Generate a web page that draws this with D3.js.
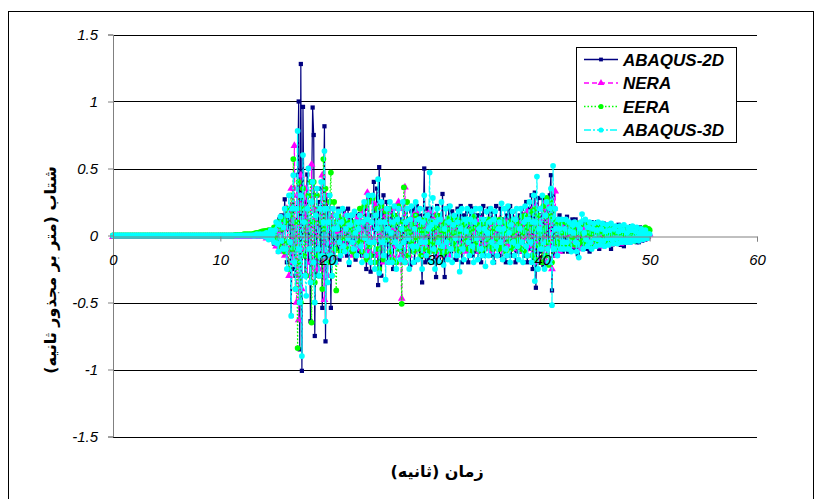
<!DOCTYPE html>
<html>
<head>
<meta charset="utf-8">
<script src="https://cdn.jsdelivr.net/npm/d3@7"></script>
<style>
body { margin: 0; background: #fff; }
</style>
</head>
<body>
<div id="chart-area"></div>
<script>
// quiet part: samples every 0.2 s from 0 to 12.8 s
// strong motion part: samples every 0.1 s from 13 to 50 s
var quietStep = 0.2;
var eventStart = 13, eventStep = 0.1;
var xTicks = [0, 10, 20, 30, 40, 50, 60];
var yTicks = [-1.5, -1, -0.5, 0, 0.5, 1, 1.5];
var seriesNames = ["ABAQUS-2D", "NERA", "EERA", "ABAQUS-3D"];

var abaqus2dQuiet = [0,0,0,0,0,0,0,0,0,0, 0,0,0,0,0,0,0,0,0,0, 0,0,0,0,0,0,0,0,0,0, 0,0,0,0,0,0,0,0,0,0,
  0,0,0,0,0,0,0,0,0,0, 0,0,0,0,0,0,0,0,0,0, 0,0,0,0,0];
var neraQuiet = [-0.01,-0.01,-0.01,-0.01,-0.01,-0.01,-0.01,-0.01,-0.01,-0.01, -0.01,-0.01,-0.01,-0.01,-0.01,-0.01,-0.01,-0.01,-0.01,-0.01,
  -0.01,-0.01,-0.01,-0.01,-0.01,-0.01,-0.01,-0.01,-0.01,-0.01, -0.01,-0.01,-0.01,-0.01,-0.01,-0.01,-0.01,-0.01,-0.01,-0.01,
  -0.01,-0.01,-0.01,-0.01,-0.01,-0.01,-0.01,-0.01,-0.01,-0.01, -0.01,-0.01,-0.01,-0.01,-0.01,-0.01,-0.01,-0.01,-0.01,-0.01,
  -0.01,-0.01,-0.01,-0.01,-0.01];
var eeraQuiet = [0,0,0,0,0,0,0,0,0,0, 0,0,0,0,0,0,0,0,0,0, 0,0,0,0,0,0,0,0,0,0, 0,0,0,0,0,0,0,0,0,0,
  0,0,0,0,0,0,0,0,0,0, 0,0,0,0,0,0,0,0.005,0.005,0.005, 0.005,0.01,0.01,0.01,0.01];
var abaqus3dQuiet = [0,0,0,0,0,0,0,0,0,0, 0,0,0,0,0,0,0,0,0,0, 0,0,0,0,0,0,0,0,0,0, 0,0,0,0,0,0,0,0,0,0,
  0,0,0,0,0,0,0,0,0,0, 0,0,0,0,0,0,0,0,0,0, 0,0,0,0,0];

var abaqus2d = [
  0,0,0.01,0,0.01,0,0.01,0,0,0.01,
  0.01,0,-0.01,0.02,0,-0.02,0.03,-0.01,0.04,-0.03,
  -0.06,0.05,0.1,-0.04,-0.08,0.12,0.02,0.15,-0.1,0.06,
  0.27,-0.1,-0.2,0.12,0.05,0.2,-0.6,0.1,0.35,-0.25,
  -0.3,0.2,0.45,1.0,-0.85,1.28,-1.01,0.96,0.1,-0.3,
  0.25,0.455,-0.2,0.1,-0.64,0.3,0.955,0.75,-0.75,0.2,
  -0.3,0.25,0.1,-0.2,0.35,-0.54,0.2,0.815,-0.79,0.3,
  0.2,-0.15,0.3,-0.54,0.1,0.2,-0.2,0.05,0.15,-0.1,
  0.2,-0.18,0.05,0.12,-0.12,0.18,-0.05,0.1,-0.15,0.2,
  -0.22,0.12,-0.02,0.15,-0.1,0.08,-0.18,0.05,0.15,-0.12,
  0.16,-0.05,-0.15,0.1,0.05,0.2,-0.25,0.1,0.28,-0.1,
  -0.27,0.15,0.05,0.4,-0.15,0.2,0.35,-0.37,0.51,-0.2,
  -0.3,0.1,0.3,-0.15,0.02,0.25,-0.2,0.12,-0.15,0.2,
  0.2,-0.25,0.08,0.15,-0.2,0.05,0.22,-0.1,-0.18,0.12,
  -0.2,0.25,0.05,-0.15,0.2,-0.05,0.12,-0.22,0.18,0.03,
  0.2,-0.2,0.05,0.22,-0.1,0.05,0.15,-0.12,-0.35,0.1,
  0.5,-0.2,0.1,0.2,-0.18,0.05,0.2,-0.1,0.15,-0.2,
  0.1,-0.31,0.22,-0.05,0.15,-0.2,0.05,0.31,-0.1,-0.31,
  0.2,-0.15,0.05,0.22,0.02,-0.12,0.18,-0.05,0.12,-0.18,
  -0.18,0.2,-0.05,0.1,0.22,-0.2,0.05,0.15,-0.1,0.02,
  0.18,-0.2,0.08,0.22,-0.02,-0.15,0.2,0.05,-0.12,0.15,
  -0.18,0.05,0.15,-0.2,0.1,0.22,-0.15,0.02,0.12,-0.08,
  0.2,-0.02,-0.15,0.18,0.05,-0.2,0.1,0.22,-0.1,0.05,
  -0.15,0.2,0.02,-0.18,0.12,0.05,-0.2,0.15,-0.05,0.18,
  0.22,-0.15,0.05,0.18,-0.1,-0.2,0.12,0.05,-0.12,0.15,
  -0.12,0.2,0.05,-0.15,0.1,0.25,-0.2,0.08,0.2,-0.1,
  0.3,-0.25,0.12,0.32,-0.39,0.1,0.28,-0.2,0.15,-0.12,
  0.28,-0.22,0.1,0.25,-0.15,0.2,-0.2,0.3,0.45,-0.41,
  0.3,-0.15,0.1,0.12,-0.1,0.05,0.15,-0.08,0.1,-0.12,
  0.12,-0.02,0.08,0.14,-0.12,0.05,0.1,-0.06,0.12,-0.1,
  -0.1,0.12,0.02,-0.14,0.08,0.03,-0.08,0.1,-0.05,0.09,
  0.1,-0.1,0.05,0.02,-0.12,0.08,0.1,-0.05,0.06,-0.08,
  -0.08,0.1,0.02,-0.1,0.08,0.05,-0.07,0.09,-0.04,0.06,
  0.08,-0.02,0.05,0.07,-0.1,0.03,0.06,-0.05,0.04,-0.06,
  -0.06,0.08,0.02,-0.07,0.06,0.03,-0.08,0.05,-0.03,0.04,
  0.06,-0.05,0.03,0.07,0,-0.04,0.05,0.02,-0.05,0.04,
  -0.05,0.06,0.01,-0.04,0.05,0.02,-0.03,0.04,-0.02,0.03,
  0.02
];

var nera = [
  -0.01,-0.01,-0.01,-0.01,-0.01,-0.01,-0.01,-0.01,-0.005,-0.005,
  0,0.01,-0.01,-0.02,0.01,0.02,-0.01,-0.03,0.02,0.01,
  0.05,-0.03,-0.08,0.04,0.02,-0.12,0.06,0.1,-0.05,0.08,
  -0.15,0.05,0.2,-0.1,-0.3,0.15,0.35,-0.2,0.1,0.67,
  -0.2,-0.5,0.3,-0.63,0.2,0.45,-0.4,0.1,0.35,-0.1,
  0.35,-0.3,0.1,0.05,-0.2,0.53,-0.35,0.2,0.1,-0.25,
  0.3,-0.1,-0.25,0.2,0.1,0.45,-0.2,-0.48,0.3,0.05,
  -0.3,0.1,0.25,-0.05,-0.2,0.15,0.05,-0.2,0.1,0.02,
  0.12,-0.05,-0.15,0.08,0.02,-0.1,0.15,0.05,-0.08,0.1,
  -0.12,0.1,0.02,-0.15,0.04,0.08,-0.08,0.12,-0.05,0.02,
  0.12,-0.1,0.05,0.18,-0.05,-0.15,0.1,0.32,-0.12,0.05,
  -0.2,0.1,0.25,-0.02,-0.12,0.22,0.05,-0.15,0.1,0.02,
  0.2,-0.05,-0.2,0.1,0.15,-0.02,0.05,0.18,-0.1,0.03,
  -0.15,0.05,0.2,-0.08,-0.2,0.1,0.25,0.02,-0.15,-0.47,
  0.2,0.1,0.36,-0.2,0.02,0.05,-0.15,0.1,-0.05,0.08,
  0.15,-0.12,0.02,0.18,-0.02,-0.08,0.12,0.04,-0.1,0.06,
  -0.15,0.05,0.12,-0.1,0.02,0.18,-0.12,0.06,0.1,-0.05,
  0.15,-0.12,0.02,0.04,-0.15,0.1,0.12,-0.06,0.03,-0.1,
  -0.1,0.12,0.03,-0.15,0.1,0.05,-0.02,0.1,-0.08,0.04,
  0.12,-0.1,0.02,0.08,-0.12,0.06,0.1,-0.04,0.02,-0.08,
  -0.12,0.03,0.1,-0.08,0.05,0.12,-0.1,0.02,0.06,-0.06,
  0.1,-0.12,0.04,0.12,-0.02,-0.08,0.1,0.03,-0.06,0.05,
  -0.1,0.12,0.02,-0.12,0.08,0.04,-0.1,0.06,0.1,-0.04,
  0.12,-0.08,0.03,0.1,-0.12,0.05,0.1,-0.02,-0.06,0.08,
  -0.08,0.1,0.02,-0.1,0.12,-0.06,0.04,0.08,-0.05,0.03,
  0.1,-0.12,0.05,0.15,-0.02,-0.1,0.18,0.04,-0.08,0.1,
  -0.15,0.2,0.05,-0.2,0.22,-0.05,-0.18,0.12,0.08,-0.1,
  0.2,-0.15,0.05,0.25,-0.2,0.1,0.22,-0.08,0.15,-0.25,
  0.1,0.2,0.33,-0.15,0.05,0.1,-0.12,0.02,0.06,-0.05,
  0.1,-0.08,0.03,0.02,-0.1,0.07,0.04,-0.06,0.05,-0.02,
  -0.08,0.09,0.01,-0.07,0.08,0.02,-0.1,0.05,-0.03,0.04,
  0.07,-0.08,0.01,0.06,-0.07,0.03,0.08,-0.04,0.02,-0.05,
  -0.07,0.06,0.02,-0.08,0.05,0.01,-0.06,0.04,-0.02,0.03,
  0.06,-0.05,0.02,0.05,-0.07,0.01,0.04,-0.03,0.02,-0.04,
  -0.05,0.05,0.01,-0.06,0.04,0.01,-0.05,0.03,-0.02,0.02,
  0.04,-0.05,0.01,0.05,-0.04,0.02,0.03,-0.03,0.01,-0.02,
  -0.04,0.04,0.01,-0.03,0.03,0.01,-0.02,0.02,-0.01,0.01,
  0.01
];

var eera = [
  0.01,0.01,0.015,0.015,0.02,0.02,0.02,0.025,0.025,0.03,
  0.03,0.03,0.035,0.03,0.035,0.04,0.03,0.04,0.035,0.02,
  0.06,-0.02,-0.05,0.08,0.1,-0.06,-0.1,0.05,0.12,-0.04,
  -0.12,0.1,0.2,-0.05,-0.25,0.15,0.3,-0.1,0.57,0.2,
  -0.4,0.1,-0.84,0.4,-0.2,-0.5,0.2,0.35,-0.15,0.1,
  -0.3,0.2,0.3,-0.1,0.4,-0.65,0.1,0.4,-0.35,0.15,
  0.3,-0.15,-0.3,0.2,0.1,-0.4,0.57,0.05,0.35,-0.2,
  -0.2,0.1,0.25,0.47,-0.3,0.05,0.25,-0.1,-0.41,0.1,
  0.15,-0.05,-0.12,0.08,0.12,-0.02,0.1,-0.1,0.05,0.1,
  -0.1,0.05,0.15,-0.12,0.02,0.1,-0.15,0.08,0.05,-0.05,
  0.2,-0.05,-0.12,0.1,0.22,-0.02,-0.18,0.12,0.25,-0.08,
  -0.15,0.1,0.28,-0.05,-0.2,0.15,0.2,-0.1,-0.25,0.05,
  0.22,-0.05,-0.18,0.1,0.18,-0.03,0.05,0.2,-0.12,0.02,
  -0.18,0.08,0.15,-0.05,-0.2,0.1,0.22,-0.1,0.05,-0.51,
  0.1,0.36,-0.2,0.05,0.25,-0.15,0.02,0.12,-0.05,0.08,
  -0.12,0.05,0.15,-0.02,-0.1,0.12,0.04,-0.15,0.08,0.02,
  0.12,-0.1,0.03,0.15,-0.05,-0.12,0.1,0.05,-0.06,0.1,
  -0.12,0.06,0.15,-0.02,0.12,-0.1,0.04,-0.14,0.08,0.02,
  0.1,-0.12,0.04,0.13,-0.03,-0.1,0.12,0.02,-0.06,0.08,
  -0.1,0.12,0.02,-0.12,0.06,0.1,-0.08,0.03,0.08,-0.04,
  0.12,-0.1,0.03,0.1,-0.12,0.05,0.14,-0.02,-0.06,0.08,
  -0.1,0.08,0.02,-0.12,0.1,0.04,-0.1,0.06,0.1,-0.03,
  0.12,-0.08,0.02,0.1,-0.1,0.05,0.12,-0.02,-0.07,0.06,
  -0.1,0.12,0.03,-0.08,0.1,0.02,-0.12,0.08,0.05,-0.04,
  0.1,-0.1,0.02,0.12,-0.08,0.04,0.1,-0.03,-0.06,0.07,
  -0.1,0.14,0.02,-0.12,0.15,0.05,-0.15,0.08,0.1,-0.05,
  0.18,-0.15,0.05,0.2,-0.18,0.1,0.15,-0.08,0.02,-0.1,
  -0.2,0.22,0.05,-0.15,0.28,-0.05,-0.22,0.15,0.25,-0.2,
  0.12,0.2,-0.1,0.1,-0.05,0.08,-0.08,0.1,0.02,-0.06,
  -0.08,0.1,0.02,-0.08,0.09,0.03,-0.07,0.06,-0.02,0.05,
  0.08,-0.07,0.02,0.09,-0.06,0.03,0.08,-0.04,0.01,-0.05,
  -0.06,0.08,0.02,-0.07,0.06,0.01,-0.08,0.05,0.03,-0.03,
  0.07,-0.06,0.02,0.07,-0.05,0.03,0.06,-0.03,0.01,-0.04,
  -0.05,0.06,0.01,-0.04,0.05,0.02,-0.06,0.04,0.02,-0.03,
  0.05,-0.04,0.02,0.06,-0.05,0.01,0.04,-0.03,0.02,-0.02,
  -0.04,0.05,0.01,-0.03,0.05,0.02,-0.04,0.03,0.01,-0.02,
  0.04,-0.03,0.02,0.05,-0.02,0.03,0.06,-0.01,0.04,0.05,
  0.04
];

var abaqus3d = [
  0,0,0,0,0.01,0,0,0.01,0,0,
  0.01,0,-0.01,0.02,0.01,-0.03,0.02,0.04,-0.02,0.01,
  -0.05,0.04,0.1,-0.06,-0.12,0.08,0.14,-0.04,-0.1,0.06,
  0.2,-0.1,-0.25,0.15,0.3,-0.05,-0.6,0.2,0.45,-0.2,
  -0.4,0.2,0.78,-0.1,-0.5,0.3,-0.9,0.6,0.1,-0.3,
  -0.45,0.2,0.5,-0.1,-0.35,0.25,0.4,-0.2,-0.5,0.15,
  0.35,-0.1,-0.3,0.2,0.4,-0.15,0.1,0.63,-0.64,0.2,
  -0.35,0.1,0.3,-0.15,-0.3,0.2,0.05,-0.2,0.15,0.05,
  0.18,-0.05,-0.15,0.1,0.2,-0.08,-0.12,0.05,0.15,-0.02,
  -0.2,0.08,0.15,-0.05,-0.1,0.18,0.02,-0.15,0.1,0.05,
  0.15,-0.08,-0.2,0.1,0.25,-0.02,-0.15,0.12,0.3,-0.05,
  -0.2,0.1,0.3,-0.05,-0.25,0.15,0.05,0.42,-0.28,0.1,
  0.25,-0.05,-0.15,0.1,-0.33,0.2,0.05,-0.2,0.25,0.02,
  -0.2,0.1,0.22,-0.05,-0.25,0.12,0.2,-0.08,-0.18,0.05,
  0.25,-0.05,-0.2,0.1,0.2,-0.02,-0.25,0.12,0.22,-0.08,
  -0.2,0.05,0.25,-0.08,-0.18,0.12,0.2,-0.05,-0.25,0.1,
  0.3,-0.05,-0.15,0.15,0.05,0.47,-0.2,0.08,0.28,-0.1,
  -0.25,0.1,0.2,-0.05,-0.2,0.12,0.25,-0.08,-0.22,0.05,
  0.2,-0.05,-0.18,0.1,0.22,-0.1,-0.2,0.08,0.15,-0.02,
  -0.15,0.1,0.18,-0.27,0.05,0.2,-0.1,-0.18,0.12,0.03,
  0.2,-0.05,-0.15,0.12,0.18,-0.08,-0.2,0.1,0.2,-0.02,
  -0.18,0.05,0.2,-0.1,-0.15,0.12,0.05,-0.23,0.18,0.02,
  -0.15,0.1,0.2,-0.05,-0.2,0.12,0.18,-0.08,-0.15,0.05,
  0.1,-0.05,0.24,-0.18,0.05,0.2,-0.1,-0.15,0.22,0.02,
  -0.2,0.08,0.18,-0.05,-0.15,0.12,0.2,-0.08,-0.18,0.05,
  0.2,-0.05,-0.2,0.1,0.22,-0.08,-0.15,0.12,0.25,-0.05,
  -0.2,0.1,0.3,-0.34,0.1,0.44,-0.25,0.05,0.2,-0.1,
  0.3,-0.05,-0.25,0.15,0.25,-0.1,-0.2,0.2,0.35,-0.52,
  0.52,-0.1,0.2,0.05,-0.15,0.12,0.05,-0.1,0.12,-0.05,
  -0.1,0.05,0.12,-0.05,-0.1,0.1,0.03,-0.12,0.08,0.02,
  0.1,-0.05,-0.12,0.08,-0.165,0.05,0.1,0.16,-0.1,0.02,
  0.12,-0.03,-0.08,0.06,0.1,-0.05,-0.1,0.05,0.09,-0.02,
  -0.08,0.04,0.1,-0.03,-0.07,0.05,0.09,-0.04,-0.08,0.03,
  0.08,-0.02,-0.07,0.04,0.09,-0.03,-0.06,0.05,0.07,-0.02,
  -0.06,0.03,0.07,-0.02,-0.05,0.04,0.08,-0.03,-0.05,0.02,
  0.06,-0.02,-0.05,0.04,0.07,-0.02,-0.04,0.03,0.06,-0.01,
  -0.04,0.02,0.05,-0.01,-0.03,0.02,0.04,-0.01,-0.02,0.01,
  0.01
];

var W = 815, H = 499;
var svg = d3.select("#chart-area").append("svg")
    .attr("width", W)
    .attr("height", H)
    .style("display", "block");

// outer chart border (bottom edge falls outside the picture)
svg.append("rect")
    .attr("x", 8.5).attr("y", 11.5)
    .attr("width", 805).attr("height", 500)
    .attr("fill", "#fff").attr("stroke", "#000").attr("stroke-width", 1);

var x = d3.scaleLinear().domain([0, 60]).range([113, 757]);
var y = d3.scaleLinear().domain([-1.5, 1.5]).range([436.5, 34.5]);

// horizontal gridlines
svg.append("g").selectAll("line")
    .data(yTicks.filter((d) => d !== 0))
    .enter().append("line")
        .attr("x1", x(0)).attr("x2", x(60))
        .attr("y1", (d) => Math.round(y(d)) + 0.5)
        .attr("y2", (d) => Math.round(y(d)) + 0.5)
        .attr("stroke", "#000").attr("stroke-width", 1);

var series = [
    {name: seriesNames[0], quiet: abaqus2dQuiet, values: abaqus2d, color: "#000080", dash: null, symbol: d3.symbolSquare, size: 18},
    {name: seriesNames[1], quiet: neraQuiet, values: nera, color: "#ff00ff", dash: "5,3", symbol: d3.symbolTriangle, size: 26},
    {name: seriesNames[2], quiet: eeraQuiet, values: eera, color: "#00ff00", dash: "1.5,2", symbol: d3.symbolCircle, size: 26},
    {name: seriesNames[3], quiet: abaqus3dQuiet, values: abaqus3d, color: "#00ffff", dash: "7,2,2,2", symbol: d3.symbolCircle, size: 26}
];
series.forEach((s) => {
    s.points = s.quiet.map((v, i) => ({t: i * quietStep, v: v}))
        .concat(s.values.map((v, i) => ({t: eventStart + i * eventStep, v: v})));
});

var line = d3.line()
    .x((d) => x(d.t))
    .y((d) => y(d.v));

series.forEach((s) => {
    var g = svg.append("g");
    g.append("path")
        .datum(s.points)
        .attr("d", line)
        .attr("fill", "none")
        .attr("stroke", s.color)
        .attr("stroke-width", 1.2)
        .attr("stroke-dasharray", s.dash);
    g.selectAll("path.mark")
        .data(s.points)
        .enter().append("path")
            .attr("class", "mark")
            .attr("transform", (d) => "translate(" + x(d.t) + "," + y(d.v) + ")")
            .attr("d", d3.symbol().type(s.symbol).size(s.size))
            .attr("fill", s.color);
});

// axes
var yAxis = svg.append("g")
    .attr("transform", "translate(" + x(0) + ",0)")
    .call(d3.axisLeft(y).tickValues(yTicks).tickSize(5).tickPadding(10)
        .tickFormat((d) => String(d)));
var xAxis = svg.append("g")
    .attr("transform", "translate(0," + (Math.round(y(0)) + 0.5) + ")")
    .call(d3.axisBottom(x).tickValues(xTicks).tickSize(5).tickPadding(13)
        .tickFormat((d) => String(d)));
[yAxis, xAxis].forEach((a) => {
    a.select(".domain").attr("stroke", "#808080");
    a.selectAll(".tick line").attr("stroke", "#808080");
    a.selectAll("text")
        .attr("fill", "#000")
        .style("font-family", "'Liberation Sans', Arial, sans-serif")
        .style("font-style", "italic")
        .style("font-size", "15px");
});

// axis titles
svg.append("text")
    .attr("transform", "translate(50,270) rotate(-90)")
    .attr("text-anchor", "middle")
    .attr("dominant-baseline", "central")
    .attr("direction", "rtl")
    .style("font-family", "'DejaVu Sans', sans-serif")
    .style("font-weight", "bold")
    .style("font-size", "16px")
    .text("شتاب (متر بر مجذور ثانیه)");

svg.append("text")
    .attr("x", 437).attr("y", 477)
    .attr("text-anchor", "middle")
    .attr("direction", "rtl")
    .style("font-family", "'DejaVu Sans', sans-serif")
    .style("font-weight", "bold")
    .style("font-size", "16px")
    .text("زمان (ثانیه)");

// legend
var legend = svg.append("g");
legend.append("rect")
    .attr("x", 576.5).attr("y", 47.5)
    .attr("width", 160).attr("height", 95)
    .attr("fill", "#fff").attr("stroke", "#000").attr("stroke-width", 1);
series.forEach((s, i) => {
    var ly = 59.5 + i * 23.5;
    legend.append("line")
        .attr("x1", 584).attr("x2", 618)
        .attr("y1", ly).attr("y2", ly)
        .attr("stroke", s.color).attr("stroke-width", 1.3)
        .attr("stroke-dasharray", s.dash);
    legend.append("path")
        .attr("transform", "translate(601," + ly + ")")
        .attr("d", d3.symbol().type(s.symbol).size(s.size * 0.8))
        .attr("fill", s.color);
    legend.append("text")
        .attr("x", 623).attr("y", ly)
        .attr("dy", "0.36em")
        .style("font-family", "'Liberation Sans', Arial, sans-serif")
        .style("font-weight", "bold")
        .style("font-style", "italic")
        .style("font-size", "17px")
        .text(s.name);
});
</script>
</body>
</html>
